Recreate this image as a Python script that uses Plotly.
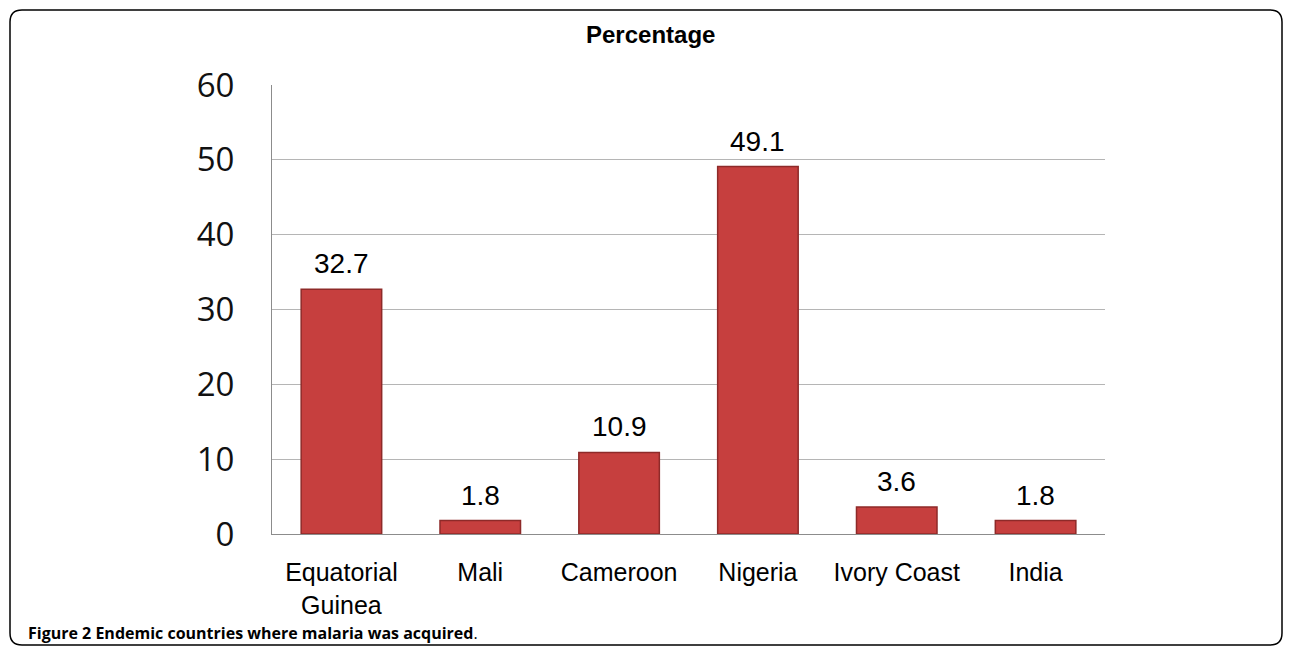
import plotly.graph_objects as go

countries = ["Equatorial<br>Guinea", "Mali", "Cameroon", "Nigeria", "Ivory Coast", "India"]
percentages = [32.7, 1.8, 10.9, 49.1, 3.6, 1.8]
y_ticks = [0, 10, 20, 30, 40, 50, 60]

OFF = 8  # page body margin
W, H = 1292 - 2 * OFF, 655 - 2 * OFF
L, R, T, B = 272 - OFF, 1105 - OFF, 85 - OFF, 534 - OFF


def px_x(p):
    return (p - OFF - L) / (R - L)


def px_y(p):
    return (B - (p - OFF)) / (B - T)


fig = go.Figure()
fig.add_trace(go.Bar(
    x=countries, y=percentages,
    marker=dict(color="#C63F3E", line=dict(color="#8E2A29", width=1.5)),
    width=0.58,
    showlegend=False,
    hoverinfo="x+y",
))

for c, v in zip(countries, percentages):
    fig.add_annotation(x=c, y=v, text=f"{v:.1f}", showarrow=False,
                       yanchor="bottom", yshift=8,
                       font=dict(family="Liberation Sans, Arial", size=28, color="#000000"))

# rounded outer border in paper coordinates
x0, x1, y0, y1, r = 10, 1282, 10, 645, 12
path = (
    f"M {px_x(x0+r)} {px_y(y0)} L {px_x(x1-r)} {px_y(y0)} "
    f"Q {px_x(x1)} {px_y(y0)} {px_x(x1)} {px_y(y0+r)} "
    f"L {px_x(x1)} {px_y(y1-r)} Q {px_x(x1)} {px_y(y1)} {px_x(x1-r)} {px_y(y1)} "
    f"L {px_x(x0+r)} {px_y(y1)} Q {px_x(x0)} {px_y(y1)} {px_x(x0)} {px_y(y1-r)} "
    f"L {px_x(x0)} {px_y(y0+r)} Q {px_x(x0)} {px_y(y0)} {px_x(x0+r)} {px_y(y0)} Z"
)
fig.add_shape(type="path", path=path, xref="paper", yref="paper",
              line=dict(color="#000000", width=1.5), layer="above")

fig.add_annotation(text="<b>Percentage</b>", xref="paper", yref="paper",
                   x=px_x(650), y=px_y(34), xanchor="center", yanchor="middle",
                   showarrow=False,
                   font=dict(family="Liberation Sans, Arial", size=24, color="#000000"))
fig.add_annotation(text="<b>Figure 2 Endemic countries where malaria was acquired</b>.",
                   xref="paper", yref="paper", x=px_x(26), y=px_y(633),
                   xanchor="left", yanchor="middle", showarrow=False,
                   font=dict(family="Open Sans", size=16, color="#000000"))

fig.update_layout(
    width=W, height=H,
    margin=dict(l=L, r=W - R, t=T, b=H - B),
    plot_bgcolor="#FFFFFF", paper_bgcolor="#FFFFFF",
    bargap=0.42,
    xaxis=dict(
        showgrid=False, showline=True, linecolor="#8C8C8C", linewidth=1,
        ticks="", tickfont=dict(family="Liberation Sans, Arial", size=25, color="#000000"),
        ticklabelstandoff=16,
    ),
    yaxis=dict(
        range=[0, 60], tickvals=y_ticks, showgrid=True, gridcolor="#B5B5B5", gridwidth=1,
        showline=True, linecolor="#8C8C8C", linewidth=1, zeroline=False, ticks="",
        tickfont=dict(family="Open Sans", size=33, color="#111111"),
        ticklabelstandoff=30,
    ),
)

fig.write_html("out.html")
